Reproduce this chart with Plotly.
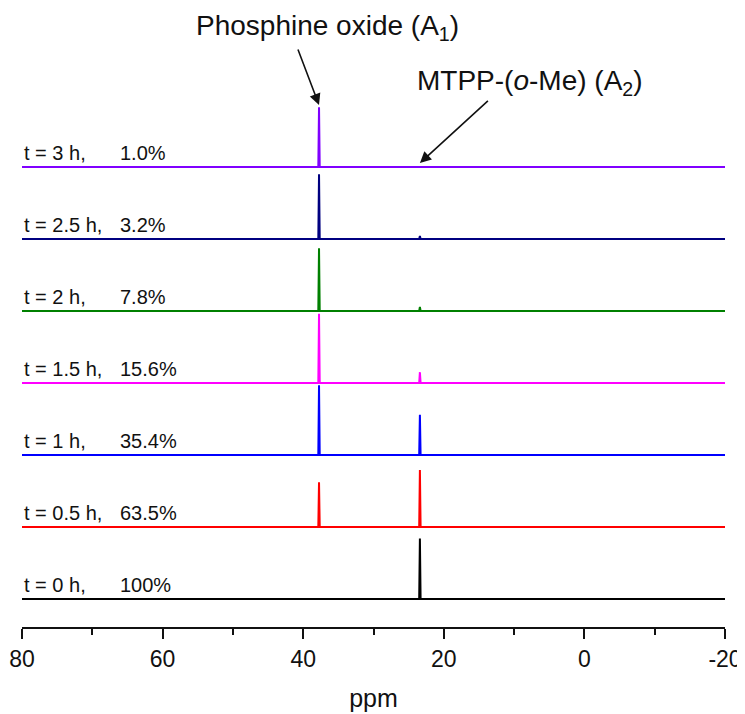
import plotly.graph_objects as go

# shared chemical-shift grid (ppm) for the stick-like 31P spectra
ppm = [80, 37.85, 37.75, 37.65, 23.5, 23.4, 23.3, -20]

# spectra, bottom to top
times = ["t = 0 h,", "t = 0.5 h,", "t = 1 h,", "t = 1.5 h,", "t = 2 h,", "t = 2.5 h,", "t = 3 h,"]
percent = ["100%", "63.5%", "35.4%", "15.6%", "7.8%", "3.2%", "1.0%"]
a1_height = [0.0, 0.62, 0.97, 0.96, 0.87, 0.90, 0.83]   # phosphine oxide, ~37.8 ppm
a2_height = [0.84, 0.79, 0.56, 0.15, 0.055, 0.04, 0.0]  # MTPP-(o-Me), ~23.4 ppm
colors = ["#000000", "#ff0000", "#0000ff", "#ff00ff", "#008000", "#000080", "#8000ff"]

tick_vals = [80, 60, 40, 20, 0, -20]
tick_text = ["80", "60", "40", "20", "0", "-20"]

font = "Liberation Sans, Arial, sans-serif"

fig = go.Figure()
for i in range(len(times)):
    y = [0, 0, a1_height[i], 0, 0, a2_height[i], 0, 0]
    fig.add_trace(go.Scatter(x=ppm, y=[v + i for v in y], mode="lines",
                             line=dict(color=colors[i], width=2), hoverinfo="skip",
                             showlegend=False))
    fig.add_annotation(x=0, xref="paper", xanchor="left", y=i, yref="y", yanchor="bottom",
                       yshift=1, text=times[i], showarrow=False,
                       font=dict(size=20, color="#111", family=font))
    fig.add_annotation(x=0.137, xref="paper", xanchor="left", y=i, yref="y", yanchor="bottom",
                       yshift=1, text=percent[i], showarrow=False,
                       font=dict(size=20, color="#111", family=font))

top = len(times) - 1
# peak labels
fig.add_annotation(x=0.434, y=0.969, xref="paper", yref="paper", xanchor="center",
                   yanchor="middle", text="Phosphine oxide (A<sub>1</sub>)", showarrow=False,
                   font=dict(size=28, color="#111", family=font))
fig.add_annotation(x=0.7226, y=0.880, xref="paper", yref="paper", xanchor="center",
                   yanchor="middle", text="MTPP-(<i>o</i>-Me) (A<sub>2</sub>)", showarrow=False,
                   font=dict(size=28, color="#111", family=font))
# arrows
fig.add_annotation(x=37.75, y=top + 0.86, text=" ", showarrow=True, ax=-22, ay=-58,
                   arrowhead=2, arrowsize=1.4, arrowwidth=1.6, arrowcolor="#111",
                   font=dict(size=2))
fig.add_annotation(x=23.4, y=top + 0.055, text=" ", showarrow=True, ax=70, ay=-64,
                   arrowhead=2, arrowsize=1.4, arrowwidth=1.6, arrowcolor="#111",
                   font=dict(size=2))

# page body adds an 8px offset, so the figure is 8px smaller and margins shifted
fig.update_layout(
    width=737, height=706,
    margin=dict(l=14, r=20, t=0, b=87, autoexpand=False),
    plot_bgcolor="white", paper_bgcolor="white",
    font=dict(family=font, color="#111"),
    xaxis=dict(range=[80, -20], tickvals=tick_vals, ticktext=tick_text,
               showgrid=False, zeroline=False, automargin=False,
               showline=True, linecolor="#111", linewidth=2,
               ticks="outside", ticklen=10, tickwidth=2, tickcolor="#111",
               tickfont=dict(size=23),
               minor=dict(dtick=10, tick0=0, ticks="outside", ticklen=6, tickwidth=2,
                          tickcolor="#111"),
               title=dict(text="ppm", font=dict(size=25), standoff=19)),
    yaxis=dict(range=[-0.389, 8.208], visible=False),
)

fig.write_html("out.html")
